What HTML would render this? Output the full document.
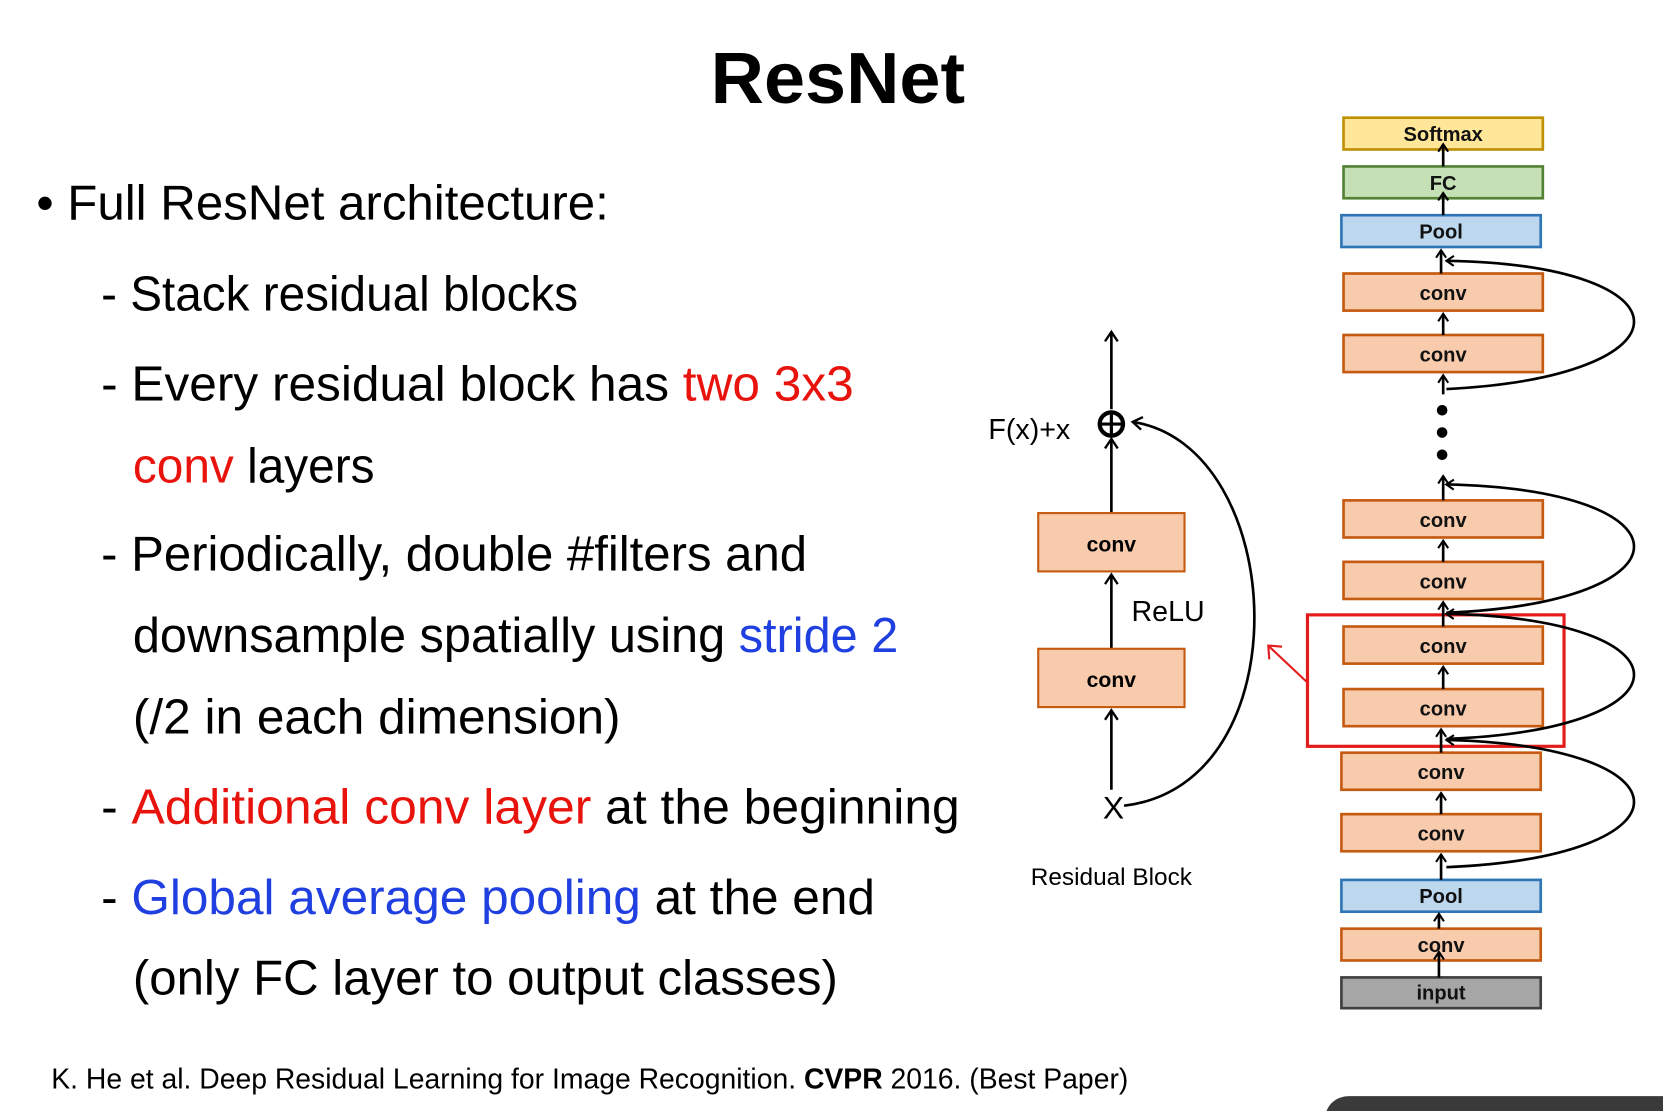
<!DOCTYPE html>
<html><head><meta charset="utf-8"><style>
html,body{margin:0;padding:0;background:#fff;width:1663px;height:1111px;overflow:hidden}
svg{display:block}
text{font-family:"Liberation Sans",sans-serif}
</style></head><body>
<svg width="1663" height="1111" viewBox="0 0 1568 1048" xmlns="http://www.w3.org/2000/svg">
<defs>
<marker id="ah" viewBox="0 0 14 14" refX="12" refY="7" markerWidth="14" markerHeight="14" markerUnits="userSpaceOnUse" orient="auto">
<path d="M3,1 L12,7 L3,13" fill="none" stroke="#000" stroke-width="2.2"/></marker>
<marker id="ahs" viewBox="0 0 14 14" refX="12" refY="7" markerWidth="11" markerHeight="11" markerUnits="userSpaceOnUse" orient="auto">
<path d="M3,1 L12,7 L3,13" fill="none" stroke="#000" stroke-width="2.5"/></marker>
</defs>
<rect width="1568" height="1048" fill="#fff"/>
<text x="790" y="97" font-size="68" font-weight="bold" text-anchor="middle" textLength="240" lengthAdjust="spacingAndGlyphs">ResNet</text>
<g font-size="46" fill="#000">
<text x="34" y="207" textLength="540" lengthAdjust="spacingAndGlyphs">• Full ResNet architecture:</text>
<text x="95" y="293" textLength="450" lengthAdjust="spacingAndGlyphs">- Stack residual blocks</text>
<text x="95" y="378" textLength="710" lengthAdjust="spacingAndGlyphs">- Every residual block has <tspan fill="#e8130c">two 3x3</tspan></text>
<text x="125" y="455" textLength="228" lengthAdjust="spacingAndGlyphs"><tspan fill="#e8130c">conv</tspan> layers</text>
<text x="95" y="538" textLength="666" lengthAdjust="spacingAndGlyphs">- Periodically, double #filters and</text>
<text x="125" y="615" textLength="722" lengthAdjust="spacingAndGlyphs">downsample spatially using <tspan fill="#1f3fe0">stride 2</tspan></text>
<text x="125" y="692" textLength="460" lengthAdjust="spacingAndGlyphs">(/2 in each dimension)</text>
<text x="95" y="777" textLength="810" lengthAdjust="spacingAndGlyphs">- <tspan fill="#e8130c">Additional conv layer</tspan> at the beginning</text>
<text x="95" y="862" textLength="730" lengthAdjust="spacingAndGlyphs">- <tspan fill="#1f3fe0">Global average pooling</tspan> at the end</text>
<text x="125" y="938" textLength="665" lengthAdjust="spacingAndGlyphs">(only FC layer to output classes)</text>
</g>
<text x="48" y="1027" font-size="27" textLength="1016" lengthAdjust="spacingAndGlyphs">K. He et al. Deep Residual Learning for Image Recognition. <tspan font-weight="bold">CVPR</tspan> 2016. (Best Paper)</text>
<rect x="1250" y="1034" width="340" height="40" rx="22" fill="#3a3a3a"/>

<!-- residual block -->
<g stroke="#000" stroke-width="2.5" fill="none">
<line x1="1048" y1="745" x2="1048" y2="670" marker-end="url(#ah)"/>
<line x1="1048" y1="612" x2="1048" y2="542" marker-end="url(#ah)"/>
<line x1="1048" y1="484" x2="1048" y2="414" marker-end="url(#ah)"/>
<line x1="1048" y1="386" x2="1048" y2="313" marker-end="url(#ah)"/>
<path d="M1060,760 C1230,740 1215,420 1068,398" marker-end="url(#ah)"/>
<circle cx="1048" cy="400" r="11" stroke-width="4"/>
<line x1="1037" y1="400" x2="1059" y2="400" stroke-width="3"/>
<line x1="1048" y1="389" x2="1048" y2="411" stroke-width="3"/>
</g>
<g stroke="#c55a11" stroke-width="2" fill="#f8cbad">
<rect x="979" y="484" width="138" height="55"/>
<rect x="979" y="612" width="138" height="55"/>
</g>
<g font-size="20" font-weight="bold" text-anchor="middle"><text x="1048" y="520">conv</text><text x="1048" y="648">conv</text></g>
<text x="932" y="414" font-size="27">F(x)+x</text>
<text x="1067" y="586" font-size="27">ReLU</text>
<text x="1050" y="772" font-size="30" text-anchor="middle">X</text>
<text x="1048" y="835" font-size="23" text-anchor="middle">Residual Block</text>

<!-- red -->
<rect x="1233" y="580" width="242" height="124" fill="none" stroke="#e31b1b" stroke-width="3"/>
<line x1="1232" y1="643" x2="1197" y2="610" stroke="#e31b1b" stroke-width="2"/>
<path d="M1197,622 L1196,609 L1209,610" fill="none" stroke="#e31b1b" stroke-width="2"/>

<!-- stack -->
<g stroke-width="2.5">
<rect x="1267" y="111" width="188" height="30" fill="#ffe699" stroke="#bf9000"/>
<rect x="1267" y="157" width="188" height="30" fill="#c5e0b4" stroke="#548235"/>
<rect x="1265" y="203" width="188" height="30" fill="#bdd7ee" stroke="#2e75b6"/>
<g fill="#f8cbad" stroke="#c55a11">
<rect x="1267" y="258" width="188" height="35"/>
<rect x="1267" y="316" width="188" height="35"/>
<rect x="1267" y="472" width="188" height="35"/>
<rect x="1267" y="530" width="188" height="35"/>
<rect x="1267" y="591" width="188" height="35"/>
<rect x="1267" y="650" width="188" height="35"/>
<rect x="1265" y="710" width="188" height="35"/>
<rect x="1265" y="768" width="188" height="35"/>
<rect x="1265" y="876" width="188" height="30"/>
</g>
<rect x="1265" y="830" width="188" height="30" fill="#bdd7ee" stroke="#2e75b6"/>
<rect x="1265" y="922" width="188" height="29" fill="#a6a6a6" stroke="#404040"/>
</g>
<g font-size="19" font-weight="bold" text-anchor="middle" fill="#111">
<text x="1361" y="133">Softmax</text>
<text x="1361" y="179">FC</text>
<text x="1359" y="225">Pool</text>
<text x="1361" y="283">conv</text>
<text x="1361" y="341">conv</text>
<text x="1361" y="497">conv</text>
<text x="1361" y="555">conv</text>
<text x="1361" y="616">conv</text>
<text x="1361" y="675">conv</text>
<text x="1359" y="735">conv</text>
<text x="1359" y="793">conv</text>
<text x="1359" y="852">Pool</text>
<text x="1359" y="898">conv</text>
<text x="1359" y="943">input</text>
</g>
<g stroke="#000" stroke-width="2.5" fill="none">
<line x1="1361" y1="157" x2="1361" y2="136" marker-end="url(#ahs)"/>
<line x1="1361" y1="203" x2="1361" y2="182" marker-end="url(#ahs)"/>
<line x1="1359" y1="258" x2="1359" y2="236" marker-end="url(#ahs)"/>
<line x1="1361" y1="316" x2="1361" y2="296" marker-end="url(#ahs)"/>
<line x1="1361" y1="372" x2="1361" y2="354" marker-end="url(#ahs)"/>
<line x1="1361" y1="472" x2="1361" y2="449" marker-end="url(#ahs)"/>
<line x1="1361" y1="530" x2="1361" y2="510" marker-end="url(#ahs)"/>
<line x1="1361" y1="591" x2="1361" y2="568" marker-end="url(#ahs)"/>
<line x1="1361" y1="650" x2="1361" y2="629" marker-end="url(#ahs)"/>
<line x1="1359" y1="710" x2="1359" y2="688" marker-end="url(#ahs)"/>
<line x1="1359" y1="768" x2="1359" y2="748" marker-end="url(#ahs)"/>
<line x1="1359" y1="830" x2="1359" y2="806" marker-end="url(#ahs)"/>
<line x1="1357" y1="876" x2="1357" y2="862" marker-end="url(#ahs)"/>
<line x1="1357" y1="922" x2="1357" y2="898" marker-end="url(#ahs)"/>
<path d="M1364,367 C1600,355 1600,250 1364,246" marker-end="url(#ahs)"/>
<path d="M1364,578 C1600,568 1600,462 1364,457" marker-end="url(#ahs)"/>
<path d="M1364,697 C1600,688 1600,584 1364,579" marker-end="url(#ahs)"/>
<path d="M1364,818 C1600,808 1600,704 1364,698" marker-end="url(#ahs)"/>
</g>
<g fill="#000"><circle cx="1360" cy="387" r="5"/><circle cx="1360" cy="408" r="5"/><circle cx="1360" cy="429" r="5"/></g>
</svg>
</body></html>
